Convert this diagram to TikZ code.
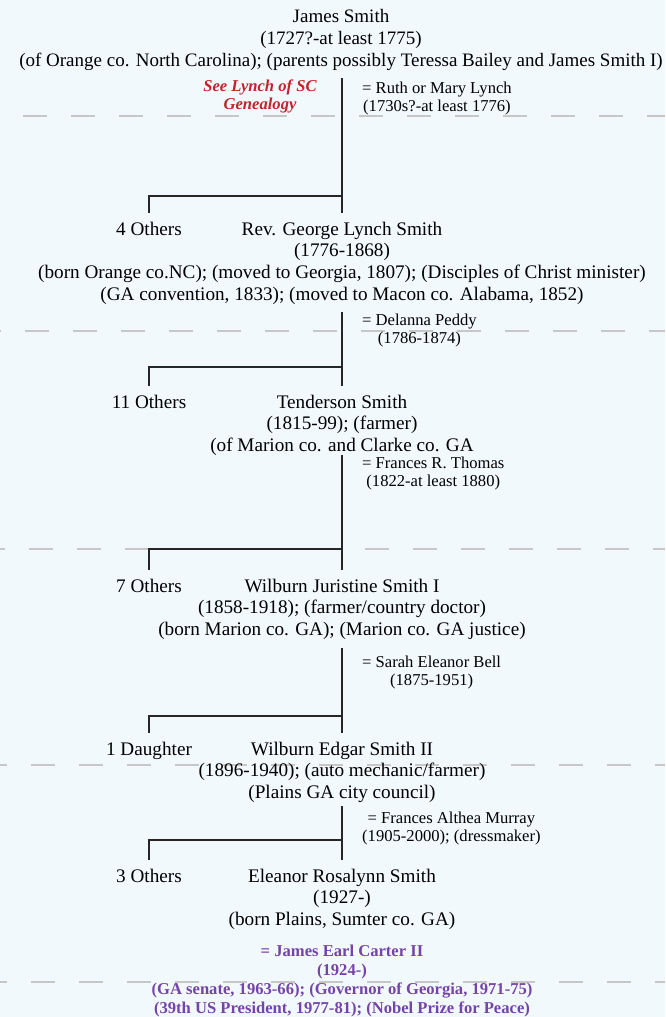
\documentclass[tikz,border=0pt]{standalone}
\usepackage{fontspec}
\setmainfont{Liberation Serif}
\usetikzlibrary{positioning}

\definecolor{paleblue}{HTML}{F2F9FD}
\definecolor{lynchred}{HTML}{C0242C}
\definecolor{carterpurple}{HTML}{7444A8}

\tikzset{
  person/.style={align=center, anchor=north, inner xsep=0pt, inner ysep=8.6pt,
    font=\fontsize{19.2}{21.7}\selectfont},
  spouse/.style={align=center, anchor=north west, inner sep=0pt,
    font=\fontsize{16.6}{18}\selectfont},
  tree/.style={line width=2pt, draw=black!85},
  genline/.style={dash pattern=on 24pt off 24pt, line width=1.5pt, draw=black!22},
}

\begin{document}
\begin{tikzpicture}[x=1pt, y=-1pt]

\fill[paleblue] (0,0) rectangle (665,1017);
\useasboundingbox (0,0) rectangle (665,1017);

% generation lines
\foreach \y/\ph in {116/23, 331/25, 549/29, 765/31, 982/31}
  \draw[genline, dash phase=-\ph] (0,\y) -- (665,\y);

% nodes
\node[person, font=\fontsize{19}{21.7}\selectfont] (james) at (341, 1) {James Smith\\(1727?-at least 1775)\\(of Orange co. North Carolina); (parents possibly Teressa Bailey and James Smith I)};
\node[spouse] (ruth) at (362, 81.5) {= Ruth or Mary Lynch\\(1730s?-at least 1776)};
\node[align=center, inner sep=0pt, text=lynchred, font=\fontsize{16.6}{18}\selectfont\bfseries\itshape] (lynchnote) at (260, 96) {See Lynch of SC\\Genealogy};

\node[person] (others1) at (149, 213) {4 Others};
\node[person] (george) at (342, 213) {Rev. George Lynch Smith\\(1776-1868)\\(born Orange co.NC); (moved to Georgia, 1807); (Disciples of Christ minister)\\(GA convention, 1833); (moved to Macon co. Alabama, 1852)};
\node[spouse] (delanna) at (362, 313.5) {= Delanna Peddy\\(1786-1874)};

\node[person] (others2) at (149, 386) {11 Others};
\node[person] (tenderson) at (342, 386) {Tenderson Smith\\(1815-99); (farmer)\\(of Marion co. and Clarke co. GA};
\node[spouse] (frances) at (362, 456.5) {= Frances R. Thomas\\(1822-at least 1880)};

\node[person] (others3) at (149, 570) {7 Others};
\node[person] (wilburn) at (342, 570) {Wilburn Juristine Smith I\\(1858-1918); (farmer/country doctor)\\(born Marion co. GA); (Marion co. GA justice)};
\node[spouse] (sarah) at (362, 656) {= Sarah Eleanor Bell\\(1875-1951)};

\node[person] (daughter) at (149, 733) {1 Daughter};
\node[person] (edgar) at (342, 733) {Wilburn Edgar Smith II\\(1896-1940); (auto mechanic/farmer)\\(Plains GA city council)};
\node[spouse] (althea) at (362, 812) {= Frances Althea Murray\\(1905-2000); (dressmaker)};

\node[person] (others5) at (149, 860) {3 Others};
\node[person] (rosalynn) at (342, 860) {Eleanor Rosalynn Smith\\(1927-)\\(born Plains, Sumter co. GA)};
\node[align=center, anchor=north, inner sep=0pt, text=carterpurple, font=\fontsize{16.6}{19}\selectfont\bfseries] (carter) at (342, 945) {= James Earl Carter II\\(1924-)\\(GA senate, 1963-66); (Governor of Georgia, 1971-75)\\(39th US President, 1977-81); (Nobel Prize for Peace)};

% marriage points and junctions
\coordinate (m1) at (342, 78);   \coordinate (j1) at (342, 196);
\coordinate (m2) at (342, 312);  \coordinate (j2) at (342, 367);
\coordinate (m3) at (342, 455);  \coordinate (j3) at (342, 549);
\coordinate (m4) at (342, 648);  \coordinate (j4) at (342, 716);
\coordinate (m5) at (342, 806);  \coordinate (j5) at (342, 840);

% lines
\draw[tree] (m1) -- (george.north);
\draw[tree] (j1) -| (others1.north);
\draw[tree] (m2) -- (tenderson.north);
\draw[tree] (j2) -| (others2.north);
\draw[tree] (m3) -- (wilburn.north);
\draw[tree] (j3) -| (others3.north);
\draw[tree] (m4) -- (edgar.north);
\draw[tree] (j4) -| (daughter.north);
\draw[tree] (m5) -- (rosalynn.north);
\draw[tree] (j5) -| (others5.north);

\end{tikzpicture}
\end{document}
